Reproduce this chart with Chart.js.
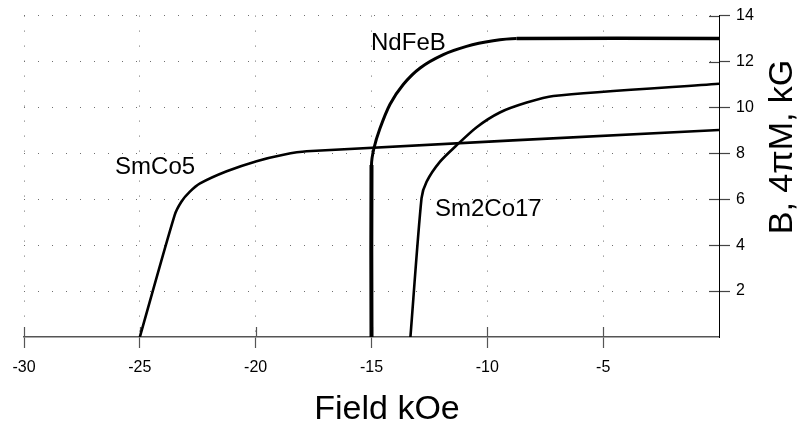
<!DOCTYPE html>
<html><head><meta charset="utf-8">
<script src="https://cdn.jsdelivr.net/npm/chart.js@4.4.1/dist/chart.umd.min.js"></script>
<style>html,body{margin:0;padding:0;background:#fff;}canvas{display:block;}</style>
</head><body>
<canvas id="c" width="802" height="430"></canvas>
<script>
// ---- data ----
const seriesNames = ['SmCo5', 'NdFeB', 'Sm2Co17'];
const smco5X = [-25, -23.5, -23.2, -22.85, -22.4, -21.25, -19.96, -18.8, -17.8, 0];
const smco5Y = [0, 5.3, 5.9, 6.32, 6.69, 7.22, 7.66, 7.94, 8.09, 9.02];
const ndfebX = [-15, -15, -14.9, -14.64, -14.2, -13.63, -12.9, -11.9, -10.9, -9.75, -8.74, 0];
const ndfebY = [0, 7.49, 8.2, 9.07, 10.14, 11.0, 11.72, 12.3, 12.66, 12.9, 13.0, 13.0];
const sm2co17X = [-13.32, -12.84, -12.62, -12.05, -11.33, -10.46, -9.46, -8.3, -7.15, 0];
const sm2co17Y = [0, 6.05, 6.77, 7.63, 8.35, 9.14, 9.78, 10.21, 10.5, 11.03];
const xTickValues = [-30, -25, -20, -15, -10, -5, 0];
const yTickValues = [0, 2, 4, 6, 8, 10, 12, 14];
const labelX = [-26.07, -15.02, -12.26];
const labelY = [7.11, 12.5, 5.26];
const xTitle = 'Field kOe';
const yTitle = 'B, 4\u03C0M, kG';

const toPts = (xs, ys) => xs.map((x, i) => ({x: x, y: ys[i]}));
const FONT = '"Liberation Sans", Arial, sans-serif';
const hideZero = c => (c.tick && c.tick.value === 0) ? 'rgba(0,0,0,0)' : null;

const innerTicks = {
  id: 'innerTicks',
  beforeDatasetsDraw(chart) {
    const {ctx, chartArea: a, scales: {x, y}} = chart;
    ctx.save();
    ctx.lineWidth = 1.2;
    ctx.strokeStyle = '#555';
    xTickValues.forEach(v => {
      if (v === 0) return;
      const px = Math.round(x.getPixelForValue(v)) + 0.5;
      ctx.beginPath(); ctx.moveTo(px, a.bottom); ctx.lineTo(px, a.bottom - 10); ctx.stroke();
    });
    ctx.strokeStyle = '#444';
    yTickValues.forEach(v => {
      if (v === 0) return;
      const py = Math.round(y.getPixelForValue(v)) + 0.5;
      ctx.beginPath(); ctx.moveTo(a.right, py); ctx.lineTo(a.right - 10, py); ctx.stroke();
    });
    ctx.restore();
  }
};

const textPlugin = {
  id: 'texts',
  afterDatasetsDraw(chart) {
    const {ctx, scales: {x, y}} = chart;
    ctx.save();
    ctx.fillStyle = '#000';
    ctx.font = '24px ' + FONT;
    ctx.textAlign = 'left';
    ctx.textBaseline = 'alphabetic';
    seriesNames.forEach((n, i) => {
      ctx.fillText(n, x.getPixelForValue(labelX[i]), y.getPixelForValue(labelY[i]));
    });
    ctx.font = '34px ' + FONT;
    ctx.textAlign = 'center';
    ctx.fillText(xTitle, 387, 419);
    ctx.translate(792, 147);
    ctx.rotate(-Math.PI / 2);
    ctx.fillText(yTitle, 0, 0);
    ctx.restore();
  }
};

const lineDs = (label, pts, w) => ({
  label, data: pts, borderColor: '#000', borderWidth: w, pointRadius: 0,
  tension: 0.25, fill: false, showLine: true
});

const ndDs = lineDs(seriesNames[1], toPts(ndfebX, ndfebY), 3);
ndDs.segment = { borderWidth: c => c.p0DataIndex === 0 ? 4 : (c.p0DataIndex === ndfebX.length - 2 ? 3.5 : 3) };

new Chart(document.getElementById('c'), {
  type: 'scatter',
  data: {
    datasets: [
      lineDs(seriesNames[0], toPts(smco5X, smco5Y), 2.6),
      ndDs,
      lineDs(seriesNames[2], toPts(sm2co17X, sm2co17Y), 2.6)
    ]
  },
  options: {
    responsive: false,
    animation: false,
    layout: {padding: {left: 24, top: 12, right: 0, bottom: 0}},
    plugins: {legend: {display: false}, tooltip: {enabled: false}},
    scales: {
      x: {
        type: 'linear', min: -30, max: 0,
        afterFit: s => { s.height = 93; },
        afterBuildTicks: s => { s.ticks = xTickValues.map(v => ({value: v})); },
        ticks: {
          callback: v => v === 0 ? '' : String(v),
          color: '#000', font: {family: FONT, size: 16}, padding: 10, maxRotation: 0
        },
        grid: {
          color: c => hideZero(c) || '#6e6e6e', lineWidth: 1,
          tickColor: c => hideZero(c) || '#555', tickLength: 11, tickWidth: 1.2
        },
        border: {color: '#555', width: 1.5, dash: [1, 14]}
      },
      y: {
        type: 'linear', position: 'right', min: 0, max: 14,
        afterFit: s => { s.width = 83; },
        afterBuildTicks: s => { s.ticks = yTickValues.map(v => ({value: v})); },
        ticks: {
          callback: v => v === 0 ? '' : String(v),
          color: '#000', font: {family: FONT, size: 16}, padding: 6
        },
        grid: {
          color: c => hideZero(c) || '#6e6e6e', lineWidth: 1,
          tickColor: c => hideZero(c) || '#444', tickLength: 11, tickWidth: 1.2
        },
        border: {color: '#000', width: 1, dash: [1, 13]}
      }
    }
  },
  plugins: [innerTicks, textPlugin]
});
</script>
</body></html>
